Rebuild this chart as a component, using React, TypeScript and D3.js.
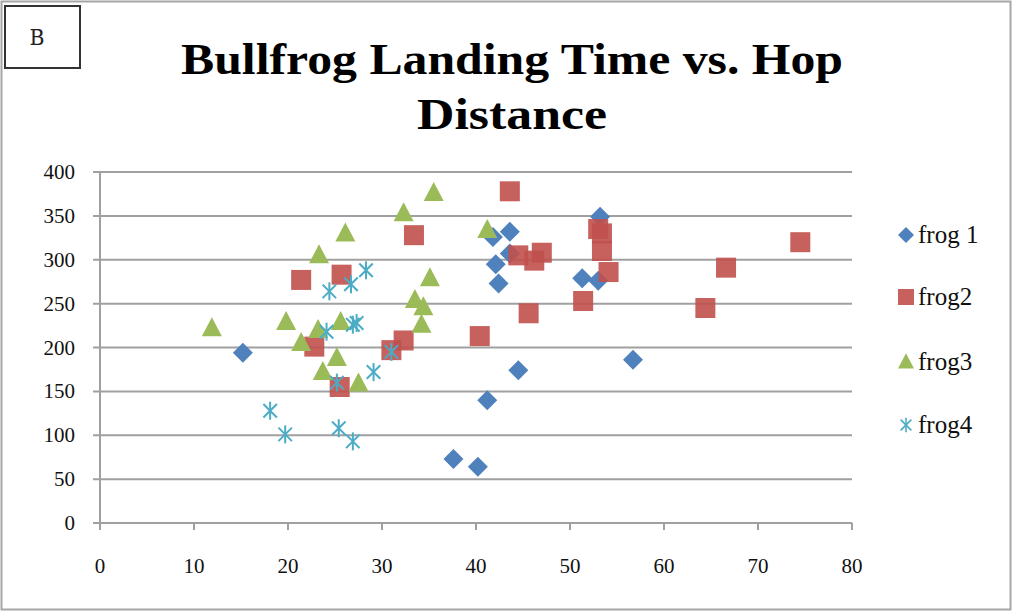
import React from "react";
import * as d3 from "d3";

const frog1: [number, number][] = [
  [15.2, 194], [37.6, 73], [40.2, 64], [41.2, 140], [44.5, 174], [41.8, 326], [43.6, 332],
  [42.1, 295], [42.4, 273], [43.6, 307], [53.2, 349], [51.3, 279], [53.0, 276], [56.7, 186],
];
const frog2: [number, number][] = [
  [21.4, 277], [22.8, 201], [25.7, 283], [25.5, 155], [33.4, 328], [31.0, 197], [32.3, 208],
  [40.4, 213], [43.6, 378], [44.5, 305], [46.2, 299], [47.0, 308], [45.6, 239], [51.4, 253],
  [53.0, 335], [53.4, 330], [53.4, 310], [54.1, 286], [64.4, 245], [66.6, 291], [74.5, 320],
];
const frog3: [number, number][] = [
  [11.9, 222], [19.8, 229], [23.3, 305], [26.1, 330], [21.4, 205], [23.2, 220], [25.6, 229],
  [25.2, 188], [23.7, 172], [32.3, 353], [35.5, 376], [41.2, 334], [35.1, 279], [33.5, 254],
  [34.4, 246], [34.2, 226], [27.5, 159],
];
const frog4: [number, number][] = [
  [18.1, 128], [19.7, 101], [25.4, 108], [26.9, 93], [25.2, 160], [24.4, 264], [24.1, 218],
  [28.3, 288], [26.7, 272], [27.3, 228], [26.9, 226], [31.0, 195], [29.1, 172],
];
const seriesNames = ["frog 1", "frog2", "frog3", "frog4"];
const seriesColors = ["#4F81BD", "#C0504D", "#9BBB59", "#4BACC6"];
const xTicks = [0, 10, 20, 30, 40, 50, 60, 70, 80];
const yTicks = [0, 50, 100, 150, 200, 250, 300, 350, 400];

const W = 1013, H = 613;
const x = d3.scaleLinear().domain([0, 80]).range([100, 852]);
const y = d3.scaleLinear().domain([0, 400]).range([523, 172]);
const font = "'Liberation Serif', 'DejaVu Serif', serif";

function Marker({ kind, cx, cy, color }: { kind: number; cx: number; cy: number; color: string }) {
  if (kind === 0) {
    const r = 10;
    return <path d={`M${cx},${cy - r}L${cx + r},${cy}L${cx},${cy + r}L${cx - r},${cy}Z`} fill={color} />;
  }
  if (kind === 1) {
    return <rect x={cx - 10} y={cy - 10} width={20} height={20} fill={color} fillOpacity={0.9} />;
  }
  if (kind === 2) {
    return <path d={`M${cx},${cy - 11}L${cx + 10},${cy + 8}L${cx - 10},${cy + 8}Z`} fill={color} />;
  }
  const r = 9;
  const d = r * 0.75;
  return (
    <g stroke={color} strokeWidth={2}>
      <line x1={cx} y1={cy - r} x2={cx} y2={cy + r} />
      <line x1={cx - d} y1={cy - d} x2={cx + d} y2={cy + d} />
      <line x1={cx - d} y1={cy + d} x2={cx + d} y2={cy - d} />
    </g>
  );
}

export default function App() {
  const all = [frog1, frog2, frog3, frog4];
  const legendY = [235, 297, 362, 425];
  return (
    <svg width={W} height={H} style={{ position: "absolute", left: 0, top: 0, background: "#fff" }}>
      <rect x={1.5} y={1.5} width={W - 4} height={H - 5} fill="#fff" stroke="#A6A6A6" strokeWidth={2} />
      <rect x={5} y={6} width={75} height={62} fill="#fff" stroke="#333" strokeWidth={2} />
      <text x={37} y={45} textAnchor="middle" fontFamily="'DejaVu Serif', serif" fontWeight={300} fontSize={22} fill="#222" textLength={15} lengthAdjust="spacingAndGlyphs">B</text>
      <text x={512} y={74} textAnchor="middle" fontFamily={font} fontWeight="bold" fontSize={44} textLength={662} lengthAdjust="spacingAndGlyphs">Bullfrog Landing Time vs. Hop</text>
      <text x={512} y={129} textAnchor="middle" fontFamily={font} fontWeight="bold" fontSize={44} textLength={190} lengthAdjust="spacingAndGlyphs">Distance</text>
      {yTicks.map((t) => (
        <g key={"y" + t}>
          <line x1={93} x2={852} y1={y(t)} y2={y(t)} stroke="#A0A0A0" strokeWidth={2} />
          <text x={75} y={y(t) + 7} textAnchor="end" fontFamily={font} fontSize={21} fill="#111">{t}</text>
        </g>
      ))}
      <line x1={x(0)} x2={x(0)} y1={y(400)} y2={y(0) + 7} stroke="#A0A0A0" strokeWidth={2} />
      {xTicks.map((t) => (
        <g key={"x" + t}>
          <line x1={x(t)} x2={x(t)} y1={y(0)} y2={y(0) + 7} stroke="#A0A0A0" strokeWidth={2} />
          <text x={x(t)} y={573} textAnchor="middle" fontFamily={font} fontSize={21} fill="#111">{t}</text>
        </g>
      ))}
      {all.map((s, i) => (
        <g key={"s" + i}>
          {s.map((p, j) => (
            <Marker key={j} kind={i} cx={x(p[0])} cy={y(p[1])} color={seriesColors[i]} />
          ))}
        </g>
      ))}
      {seriesNames.map((n, i) => (
        <g key={"l" + i}>
          <g transform={`translate(${906},${legendY[i]}) scale(0.8) translate(${-906},${-legendY[i]})`}>
            <Marker kind={i} cx={906} cy={legendY[i]} color={seriesColors[i]} />
          </g>
          <text x={918} y={legendY[i] + 8} fontFamily={font} fontSize={25} fill="#111">{n}</text>
        </g>
      ))}
    </svg>
  );
}
